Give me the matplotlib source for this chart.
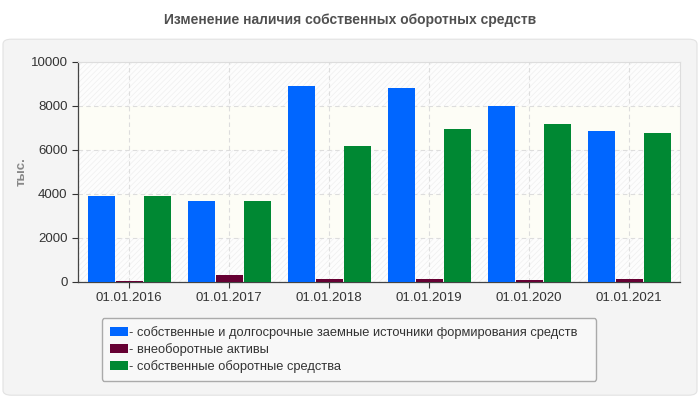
import numpy as np
import matplotlib
matplotlib.use("Agg")
import matplotlib.pyplot as plt
from matplotlib.patches import FancyBboxPatch

# Данные
dates = ["01.01.2016", "01.01.2017", "01.01.2018", "01.01.2019", "01.01.2020", "01.01.2021"]
sobstv_dolg = [3920, 3700, 8920, 8830, 8010, 6880]
vneoborot = [60, 330, 150, 150, 100, 150]
sobstv_oborot = [3920, 3700, 6200, 6970, 7200, 6790]

labels = [
    "- собственные и долгосрочные заемные источники формирования средств",
    "- внеоборотные активы",
    "- собственные оборотные средства",
]
colors = ["#0066ff", "#660033", "#008833"]

plt.rcParams["font.family"] = ["Liberation Sans", "DejaVu Sans"]
plt.rcParams["hatch.linewidth"] = 0.5

fig = plt.figure(figsize=(7, 4), dpi=100)
fig.patch.set_facecolor("white")

# серая подложка
panel = FancyBboxPatch((3 / 700, 0.012), 694 / 700, 0.89,
                       boxstyle="round,pad=0,rounding_size=0.012",
                       transform=fig.transFigure, facecolor="#f4f4f4",
                       edgecolor="#e2e2e2", linewidth=0.8, zorder=-5)
fig.patches.append(panel)

fig.text(0.5, 0.95, "Изменение наличия собственных оборотных средств",
         ha="center", va="center", fontsize=10, fontweight="bold", color="#505050")

ax = fig.add_axes([78 / 700, 1 - 282 / 400, 602 / 700, 220 / 400])
ax.set_facecolor("#fdfdf6")

# полосы фона
for y0 in [0, 4000, 8000]:
    ax.axhspan(y0, y0 + 2000, facecolor="#fdfdfd", edgecolor="#efefef",
               hatch="//////", linewidth=0, zorder=0)

x = np.arange(len(dates))
w = 0.27
ax.bar(x - 0.28, sobstv_dolg, w, color=colors[0], label=labels[0], zorder=3)
ax.bar(x, vneoborot, w, color=colors[1], label=labels[1], zorder=3)
ax.bar(x + 0.28, sobstv_oborot, w, color=colors[2], label=labels[2], zorder=3)

ax.set_xlim(-0.51, 5.51)
ax.set_ylim(0, 10000)
ax.set_yticks([0, 2000, 4000, 6000, 8000, 10000])
ax.set_xticks(x)
ax.set_xticklabels(dates)
ax.tick_params(axis="both", labelsize=9.5, colors="#333333", length=4, width=0.8)
ax.tick_params(axis="x", pad=3)

ax.grid(True, linestyle=(0, (4, 3)), color="#dddddd", linewidth=0.8, zorder=1)
ax.set_axisbelow(True)

for s in ["top", "right"]:
    ax.spines[s].set_color("#dddddd")
for s in ["left", "bottom"]:
    ax.spines[s].set_color("#444444")
    ax.spines[s].set_linewidth(0.9)

fig.text(22 / 700, 1 - 172 / 400, "тыс.", rotation=90, ha="center", va="center",
         fontsize=9.5, fontweight="bold", color="#888888")

leg = ax.legend(loc="center left", bbox_to_anchor=(98 / 700, 1 - 383 / 400, 502 / 700, 67 / 400),
                bbox_transform=fig.transFigure, mode="expand", fontsize=9.3,
                frameon=True, fancybox=True, handlelength=1.4, handleheight=0.7,
                handletextpad=0.1, labelspacing=0.3, borderpad=0.6,
                borderaxespad=0.3, labelcolor="#333333")
leg.get_frame().set_facecolor("#f8f8f8")
leg.get_frame().set_edgecolor("#aaaaaa")
leg.get_frame().set_alpha(1)

fig.savefig("out.png", dpi=100)
